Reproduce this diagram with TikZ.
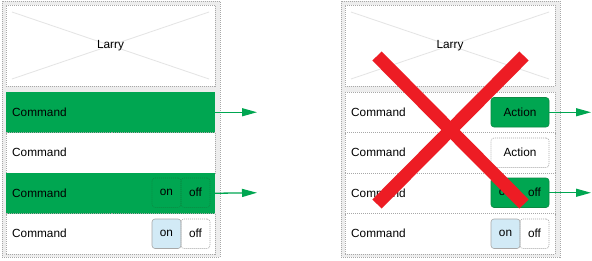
\documentclass[tikz,border=0pt]{standalone}
\usepackage{fontspec}
\setmainfont{Liberation Sans}
\usetikzlibrary{arrows.meta,calc}
\definecolor{cgreen}{HTML}{00A651}
\definecolor{cdkgreen}{HTML}{0B8A42}
\definecolor{cblue}{HTML}{D2EAF6}
\definecolor{cpanel}{HTML}{EDEDED}
\definecolor{cdash}{HTML}{A8A8A8}
\definecolor{cred}{HTML}{ED1C24}
\definecolor{cdiag}{HTML}{E4E4E4}
\tikzset{
  uifont/.style={font=\fontsize{11.8}{14}\selectfont},
  dots/.style={draw=cdash, line width=0.6pt, dash pattern=on 1pt off 1pt},
  box/.style={inner sep=0pt, outer sep=0pt, anchor=north west},
  panel/.style={box, dots, fill=cpanel, minimum width=#1, minimum height=256pt},
  larrybox/.style={box, dots, fill=white, minimum height=81pt},
  rowwhite/.style={box, dots, fill=white, minimum height=40.5pt},
  rowgreen/.style={box, fill=cgreen, minimum height=40.5pt},
  lbl/.style={anchor=west, inner sep=0pt, uifont},
  txt/.style={inner sep=0pt, uifont},
  half/.style={inner sep=0pt, outer sep=0pt, minimum width=29pt, minimum height=29.5pt, rounded corners=3pt, uifont},
  btn/.style={inner sep=0pt, outer sep=0pt, minimum width=58pt, minimum height=29.5pt, rounded corners=3pt, uifont},
  garrow/.style={draw=cgreen, line width=1.3pt, -{Triangle[length=15pt,width=8pt]}},
  crossbar/.style={draw=cred, line width=13pt},
  diag/.style={draw=cdiag, line width=0.8pt}
}
\begin{document}
\begin{tikzpicture}[x=1pt,y=-1pt]
\useasboundingbox (0,0) rectangle (592,260);
% ---------- left panel ----------
\node[panel=218pt] (lp) at (2,1) {};
\node[larrybox, minimum width=209pt] (lL) at (6,5) {};
\draw[diag] ($(lL.north west)+(6,7)$) -- ($(lL.south east)+(-6,-7)$);
\draw[diag] ($(lL.south west)+(6,-7)$) -- ($(lL.north east)+(-6,7)$);
\node[txt] (lLt) at (lL.center) {Larry};
\node[rowgreen, minimum width=209pt] (lr1) at (6,92) {};
\node[rowwhite, minimum width=209pt] (lr2) at (6,132.5) {};
\node[rowgreen, minimum width=209pt] (lr3) at (6,173) {};
\node[rowwhite, minimum width=209pt] (lr4) at (6,213.5) {};
\foreach \r in {lr1,lr2,lr3,lr4} {\node[lbl] (\r t) at ($(\r.west)+(6,0)$) {Command};}
\node[half, draw=cdkgreen, line width=0.6pt, dash pattern=on 1pt off 1pt] (l3on) at (166.5,192.75) {on};
\node[half, draw=cdkgreen, line width=0.6pt, dash pattern=on 1pt off 1pt] (l3off) at (195.5,192.75) {off};
\node[half, fill=cblue, draw=cdash, line width=0.6pt] (l4on) at (166.5,233.75) {on};
\node[half, dots] (l4off) at (195.5,233.75) {off};
\coordinate (la1) at (257,112.25);
\coordinate (la3) at (257,192.75);
\draw[garrow] (lr1.east) -- (la1);
\draw[garrow] (lr3.east) -- (la3);
% ---------- right panel ----------
\node[panel=219pt] (rp) at (341,1) {};
\node[larrybox, minimum width=210pt] (rL) at (345,5) {};
\draw[diag] ($(rL.north west)+(6,7)$) -- ($(rL.south east)+(-6,-7)$);
\draw[diag] ($(rL.south west)+(6,-7)$) -- ($(rL.north east)+(-6,7)$);
\node[txt] (rLt) at (rL.center) {Larry};
\node[rowwhite, minimum width=210pt] (rr1) at (345,92) {};
\node[rowwhite, minimum width=210pt] (rr2) at (345,132.5) {};
\node[rowwhite, minimum width=210pt] (rr3) at (345,173) {};
\node[rowwhite, minimum width=210pt] (rr4) at (345,213.5) {};
\foreach \r in {rr1,rr2,rr3,rr4} {\node[lbl] (\r t) at ($(\r.west)+(6,0)$) {Command};}
\node[btn, fill=cgreen, draw=cdkgreen, line width=0.6pt] (ract1) at (520,112.25) {Action};
\node[btn, dots] (ract2) at (520,152.75) {Action};
\node[btn, fill=cgreen, draw=cdkgreen, line width=0.6pt] (rtog3) at (520,192.75) {};
\node[txt] (r3on) at (505.5,192.75) {on};
\node[txt] (r3off) at (534.5,192.75) {off};
\node[half, fill=cblue, draw=cdash, line width=0.6pt] (r4on) at (505.5,233.75) {on};
\node[half, dots] (r4off) at (534.5,233.75) {off};
\coordinate (ra1) at (591,112.25);
\coordinate (ra3) at (591,192.75);
\draw[garrow] (ract1.east) -- (ra1);
\draw[garrow] (rtog3.east) -- (ra3);
% ---------- red cross ----------
\coordinate (xa) at (377,56);
\coordinate (xb) at (524,204);
\coordinate (xc) at (524,56);
\coordinate (xd) at (377,204);
\draw[crossbar] (xa) -- (xb);
\draw[crossbar] (xc) -- (xd);
\end{tikzpicture}
\end{document}
